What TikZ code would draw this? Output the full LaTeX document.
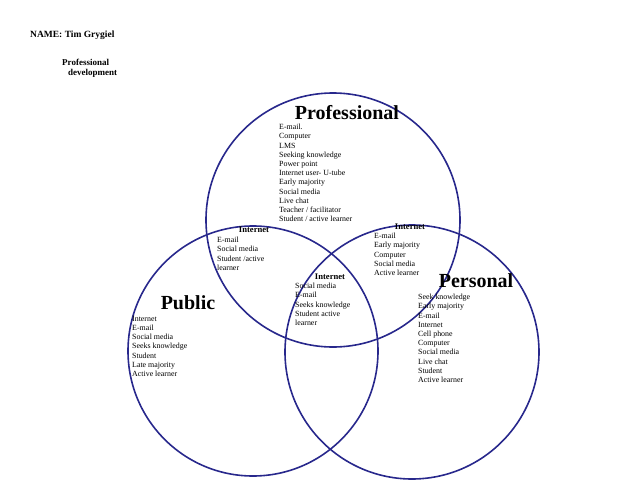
\documentclass[tikz,border=0pt]{standalone}
\usepackage{fontspec}
\setmainfont{Liberation Serif}
\begin{document}
\begin{tikzpicture}[x=1pt,y=-1pt,
  ring/.style={draw={rgb,255:red,40;green,40;blue,140},line width=1.6pt},
  lst/.style={anchor=north west,align=left,inner sep=0pt,font=\fontsize{7.9}{9.2}\selectfont},
  ttl/.style={font=\bfseries\fontsize{20}{21}\selectfont,inner sep=0pt},
  sub/.style={font=\bfseries\fontsize{8.6}{9}\selectfont,inner sep=0pt}]
\useasboundingbox (0,0) rectangle (638,493);
\node[ring,circle,minimum size=254pt,inner sep=0pt] (cpro) at (333,220) {};
\node[ring,circle,minimum size=250pt,inner sep=0pt] (cpub) at (253,351) {};
\node[ring,circle,minimum size=254pt,inner sep=0pt] (cper) at (412,352) {};
\node[anchor=west,inner sep=0pt,font=\bfseries\fontsize{9.5}{11}\selectfont] (name) at (30,35) {NAME: Tim Grygiel};
\node[anchor=north west,align=left,inner sep=0pt,font=\bfseries\fontsize{9}{10}\selectfont] (pd) at (62,59) {Professional\\\hspace*{6pt}development};
\node[ttl] (tpro) at (347,113) {Professional};
\node[ttl] (tpub) at (188,303) {Public};
\node[ttl] (tper) at (476,281) {Personal};
\node[lst] (lpro) at (279,124) {E-mail.\\Computer\\LMS\\Seeking knowledge\\Power point\\Internet user- U-tube\\Early majority\\Social media\\Live chat\\Teacher / facilitator\\Student / active learner};
\node[sub] (i1) at (254,230) {Internet};
\node[lst] (l1) at (217,237) {E-mail\\Social media\\Student /active\\learner};
\node[sub] (i2) at (410,227) {Internet};
\node[lst] (l2) at (374,233) {E-mail\\Early majority\\Computer\\Social media\\Active learner};
\node[sub] (i3) at (330,277) {Internet};
\node[lst] (l3) at (295,283) {Social media\\E-mail\\Seeks knowledge\\Student active\\learner};
\node[lst] (l4) at (132,316) {Internet\\E-mail\\Social media\\Seeks knowledge\\Student\\Late majority\\Active learner};
\node[lst] (l5) at (418,294) {Seek knowledge\\Early majority\\E-mail\\Internet\\Cell phone\\Computer\\Social media\\Live chat\\Student\\Active learner};
\end{tikzpicture}
\end{document}
